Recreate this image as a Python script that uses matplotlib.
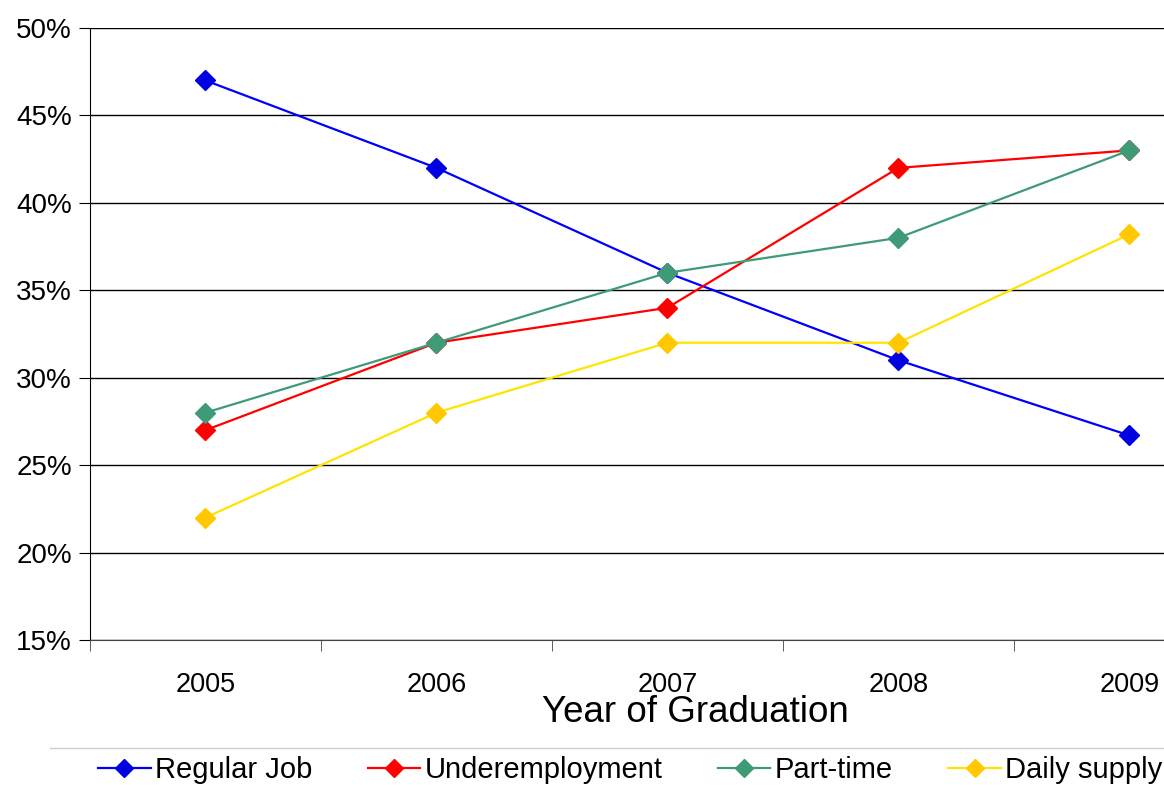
import numpy as np
import matplotlib
matplotlib.use('Agg')
import matplotlib.pyplot as plt
from matplotlib.lines import Line2D

# data
years = ['2005', '2006', '2007', '2008', '2009']
regular_job = [47, 42, 36, 31, 26.7]
underemployment = [27, 32, 34, 42, 43]
part_time = [28, 32, 36, 38, 43]
daily_supply = [22, 28, 32, 32, 38.2]

series = [
    ('Regular Job', regular_job, '#0000ff', '#0000e0'),
    ('Underemployment', underemployment, '#ff0000', '#ff0000'),
    ('Part-time', part_time, '#3f9a78', '#3f9a78'),
    ('Daily supply', daily_supply, '#ffe400', '#ffc800'),
]

plt.rcParams['font.family'] = ['Liberation Sans', 'DejaVu Sans']

fig = plt.figure(figsize=(11.64, 7.85), dpi=100)
ax = fig.add_axes([90 / 1164, 1 - 640 / 785, (1164 - 90) / 1164, (640 - 28) / 785])

x = np.arange(len(years))
for name, vals, col, mcol in series:
    ax.plot(x, vals, color=col, lw=1.6, marker='D', markersize=10,
            markerfacecolor=mcol, markeredgecolor=mcol, label=name, zorder=3)

ax.set_ylim(15, 50)
ax.set_yticks(np.arange(15, 51, 5))
ax.set_yticklabels([f'{v}%' for v in range(15, 51, 5)], fontsize=20)
ax.yaxis.grid(True, color='black', lw=1.0)
ax.set_axisbelow(True)

ax.set_xlim(-0.5, 4.15)
ax.set_xticks(x)
ax.set_xticklabels(years, fontsize=19.5)
ax.set_xticks(np.arange(-0.5, 4.5, 1), minor=True)
ax.tick_params(axis='x', which='major', length=0, pad=23)
ax.tick_params(axis='x', which='minor', length=8, direction='out', color='#444444')
ax.tick_params(axis='y', length=8, direction='out', pad=5)

ax.spines['top'].set_visible(False)
ax.spines['right'].set_visible(False)
ax.spines['bottom'].set_color('#444444')
ax.spines['left'].set_color('black')

ax.set_xlabel('Year of Graduation', fontsize=26.5, va='baseline')
ax.xaxis.set_label_coords((695 - 90) / 1074, (640 - 722) / 612)

# separator line above the legend
fig.add_artist(Line2D([50 / 1164, 1], [1 - 748 / 785] * 2, color='#cccccc', lw=1))

fig.legend(loc='center left', bbox_to_anchor=(98 / 1164, 1 - 770 / 785), ncol=4,
           frameon=False, fontsize=21, handlelength=1.8, handletextpad=0.15,
           columnspacing=1.9, borderaxespad=0, borderpad=0, markerscale=0.9)

fig.savefig('out.png', dpi=100)
